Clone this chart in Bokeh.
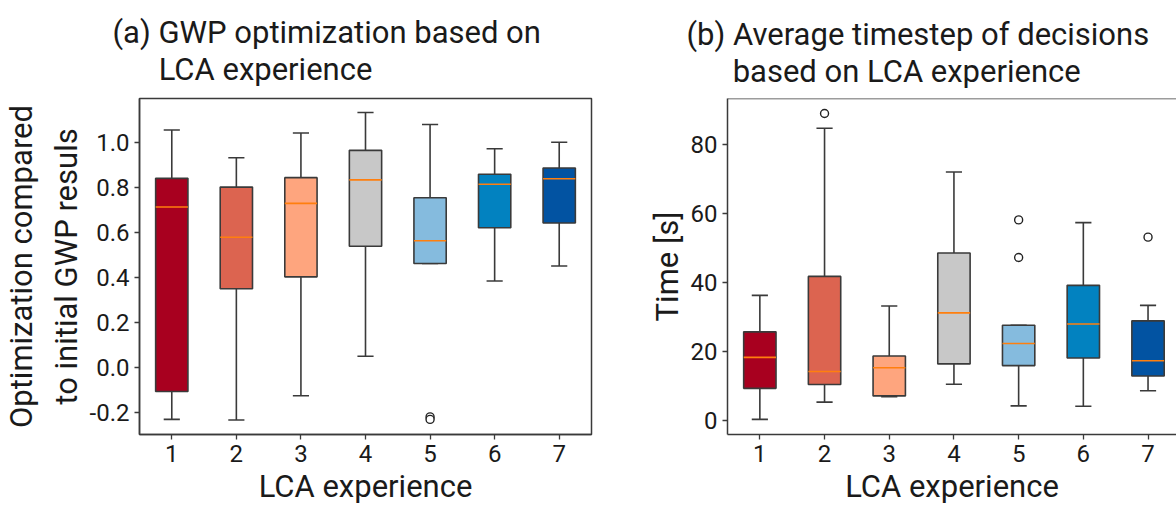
from bokeh.plotting import figure
from bokeh.layouts import row
from bokeh.models import Title, FixedTicker, PrintfTickFormatter, Range1d, Span, ColumnDataSource
from bokeh.embed import file_html
from bokeh.resources import INLINE

experience = [1, 2, 3, 4, 5, 6, 7]
box_colors = ["#a8001f", "#dc6450", "#fea57e", "#c8c8c8", "#85bbde", "#0282c0", "#0253a2"]

title_a = "(a) GWP optimization based on\n\u00a0\u00a0\u00a0\u00a0\u00a0\u00a0LCA experience"
title_b = "(b) Average timestep of decisions\n\u00a0\u00a0\u00a0\u00a0\u00a0\u00a0based on LCA experience"

# (a) GWP optimization
gwp_low = [-0.23, -0.233, -0.125, 0.05, 0.461, 0.384, 0.45]
gwp_q1 = [-0.106, 0.349, 0.402, 0.538, 0.461, 0.62, 0.641]
gwp_median = [0.712, 0.578, 0.728, 0.832, 0.562, 0.813, 0.837]
gwp_q3 = [0.839, 0.80, 0.842, 0.963, 0.753, 0.857, 0.885]
gwp_high = [1.053, 0.93, 1.04, 1.131, 1.078, 0.97, 0.999]
gwp_out_x = [5, 5]
gwp_out_y = [-0.219, -0.23]

# (b) Average timestep of decisions
time_low = [0.2, 5.2, 6.8, 10.4, 4.1, 4.0, 8.5]
time_q1 = [9.2, 10.3, 7.0, 16.3, 15.8, 18.0, 12.8]
time_median = [18.2, 14.1, 15.2, 31.1, 22.2, 27.9, 17.2]
time_q3 = [25.6, 41.7, 18.6, 48.5, 27.5, 39.1, 28.8]
time_high = [36.2, 84.7, 33.1, 72.0, 27.5, 57.3, 33.3]
time_out_x = [2, 5, 5, 7]
time_out_y = [89.0, 58.1, 47.2, 53.1]

FONT = "Roboto"
TXT = "#1a1a1a"
EDGE = "#3a3a3a"
BOX_W = 0.5
CAP_W = 0.25


def make_panel(p, low, q1, med, q3, high, out_x, out_y):
    src = ColumnDataSource(dict(
        x=experience, low=low, q1=q1, med=med, q3=q3, high=high, color=box_colors,
        cx0=[v - CAP_W / 2 for v in experience], cx1=[v + CAP_W / 2 for v in experience],
        mx0=[v - BOX_W / 2 for v in experience], mx1=[v + BOX_W / 2 for v in experience],
    ))
    p.segment(x0="x", y0="q3", x1="x", y1="high", source=src, line_color=EDGE, line_width=1.6)
    p.segment(x0="x", y0="low", x1="x", y1="q1", source=src, line_color=EDGE, line_width=1.6)
    p.segment(x0="cx0", y0="high", x1="cx1", y1="high", source=src, line_color=EDGE, line_width=1.6)
    p.segment(x0="cx0", y0="low", x1="cx1", y1="low", source=src, line_color=EDGE, line_width=1.6)
    p.vbar(x="x", width=BOX_W, bottom="q1", top="q3", source=src,
           fill_color="color", line_color=EDGE, line_width=1.6)
    p.segment(x0="mx0", y0="med", x1="mx1", y1="med", source=src, line_color="#ff7f0e", line_width=1.6)
    p.scatter(out_x, out_y, marker="circle", size=8, fill_color="white",
              line_color="#222222", line_width=1.4)


def style(p, ylabel, title_text, title_offset, title_standoff):
    p.xgrid.grid_line_color = None
    p.ygrid.grid_line_color = None
    p.xaxis.ticker = FixedTicker(ticks=experience)
    p.xaxis.axis_label = "LCA experience"
    p.yaxis.axis_label = ylabel
    for ax in (p.xaxis[0], p.yaxis[0]):
        ax.axis_label_text_font = FONT
        ax.axis_label_text_font_size = "31px"
        ax.axis_label_text_font_style = "normal"
        ax.axis_label_text_color = TXT
        ax.major_label_text_font = FONT
        ax.major_label_text_font_size = "24px"
        ax.major_label_text_color = TXT
        ax.major_tick_in = 0
        ax.major_tick_out = 5
        ax.minor_tick_line_color = None
        ax.major_tick_line_color = EDGE
        ax.major_tick_line_width = 1.3
        ax.axis_line_color = EDGE
        ax.axis_line_width = 1.5
        ax.major_label_standoff = 5
        ax.axis_label_standoff = 3
    p.yaxis.axis_label_standoff = 2
    p.background_fill_color = "white"
    p.border_fill_color = "white"
    p.add_layout(Title(text=title_text, align="left", offset=title_offset, text_font=FONT,
                       text_font_size="31px", text_font_style="normal", text_color=TXT,
                       text_line_height=1.0, standoff=title_standoff), "above")


# left panel
p1 = figure(width=643, height=519, output_backend="svg", toolbar_location=None,
            x_range=Range1d(0.5, 7.5), y_range=Range1d(-0.297, 1.193),
            min_border_left=139, min_border_right=52, min_border_top=98, min_border_bottom=83)
make_panel(p1, gwp_low, gwp_q1, gwp_median, gwp_q3, gwp_high, gwp_out_x, gwp_out_y)
style(p1, "Optimization compared\nto initial GWP resuls", title_a, -27, 21)
p1.yaxis.ticker = FixedTicker(ticks=[-0.2, 0.0, 0.2, 0.4, 0.6, 0.8, 1.0])
p1.yaxis.formatter = PrintfTickFormatter(format="%.1f")
p1.outline_line_color = EDGE
p1.outline_line_width = 1.5

# right panel
p2 = figure(width=533, height=519, output_backend="svg", toolbar_location=None,
            x_range=Range1d(0.5, 7.44), y_range=Range1d(-4.2, 93.35),
            min_border_left=84, min_border_right=0, min_border_top=95, min_border_bottom=85)
make_panel(p2, time_low, time_q1, time_median, time_q3, time_high, time_out_x, time_out_y)
style(p2, "Time [s]", title_b, -41, 18)
p2.yaxis.ticker = FixedTicker(ticks=[0, 20, 40, 60, 80])
p2.outline_line_color = None
p2.add_layout(Span(location=93.35, dimension="width", line_color=EDGE, line_width=1.5))

layout = row(p1, p2)
open("out.html", "w").write(file_html(layout, INLINE))
